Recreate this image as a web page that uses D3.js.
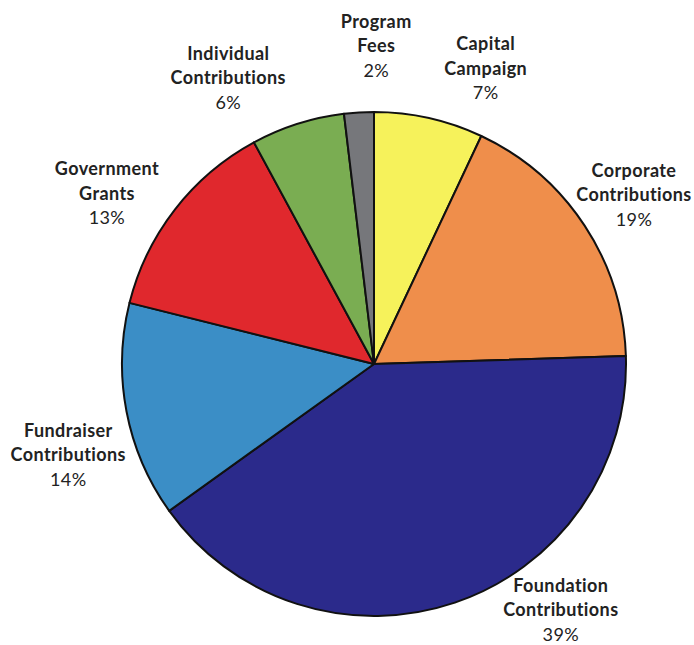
<!DOCTYPE html>
<html>
<head>
<meta charset="utf-8">
<script src="https://cdn.jsdelivr.net/npm/d3@7"></script>
<style>
  body { margin: 0; background: #fff; }
  text { font-family: Lato, "Open Sans", sans-serif; fill: #222; }
</style>
</head>
<body>
<div id="chart"></div>
<script>
// slice shares as drawn (clockwise from 12 o'clock)
const categories = ["Capital Campaign", "Corporate Contributions", "Foundation Contributions",
    "Fundraiser Contributions", "Government Grants", "Individual Contributions", "Program Fees"];
const nameLines = [["Capital", "Campaign"], ["Corporate", "Contributions"], ["Foundation", "Contributions"],
    ["Fundraiser", "Contributions"], ["Government", "Grants"], ["Individual", "Contributions"], ["Program", "Fees"]];
const shares = [7.0, 17.5, 40.6, 13.8, 13.2, 6.0, 1.9];
const percentLabels = ["7%", "19%", "39%", "14%", "13%", "6%", "2%"];
const colors = ["#f6f25b", "#ef8e4b", "#2b2a8b", "#3b8ec6", "#e0282d", "#7aad52", "#76777b"];

const width = 694;
const height = 645;
const cx = 374;
const cy = 364;
const radius = 252;
const lineGap = 24.5;

// where each label block sits: angle (deg, clockwise from top) and distance as a multiple of radius
const labelSpots = [
    {angle: 20.7, k: 1.254},
    {angle: 57, k: 1.23},
    {angle: 142.8, k: 1.226},
    {angle: 253.4, k: 1.266},
    {angle: 302.6, k: 1.258},
    {angle: 333, k: 1.274},
    {angle: 0.4, k: 1.262}
];

const data = categories.map((c, i) => ({name: c, lines: nameLines[i], value: shares[i], pct: percentLabels[i], color: colors[i]}));

const svg = d3.select("#chart").append("svg")
    .attr("width", width)
    .attr("height", height);

const g = svg.append("g")
    .attr("transform", `translate(${cx}, ${cy})`);

const pie = d3.pie()
    .sort(null)
    .value(d => d.value);

const arc = d3.arc()
    .innerRadius(0)
    .outerRadius(radius);

const arcs = pie(data);

g.selectAll("path.slice")
    .data(arcs)
    .enter()
    .append("path")
    .attr("class", "slice")
    .attr("d", arc)
    .attr("fill", d => d.data.color)
    .attr("stroke", "#111")
    .attr("stroke-width", 2)
    .attr("stroke-linejoin", "round");

/* Labels */
const labels = g.selectAll("g.label")
    .data(arcs)
    .enter()
    .append("g")
    .attr("class", "label")
    .attr("transform", (d, i) => {
        const s = labelSpots[i];
        const p = d3.pointRadial(s.angle * Math.PI / 180, radius * s.k);
        return `translate(${p[0]}, ${p[1]})`;
    });

labels.each(function(d) {
    const sel = d3.select(this);
    const rows = d.data.lines.concat([d.data.pct]);
    rows.forEach((t, j) => {
        sel.append("text")
            .attr("text-anchor", "middle")
            .attr("dy", "0.35em")
            .attr("y", (j - 1) * lineGap)
            .attr("font-size", "18px")
            .attr("letter-spacing", "0.4px")
            .attr("font-weight", j < rows.length - 1 ? "bold" : "normal")
            .text(t);
    });
});
</script>
</body>
</html>
